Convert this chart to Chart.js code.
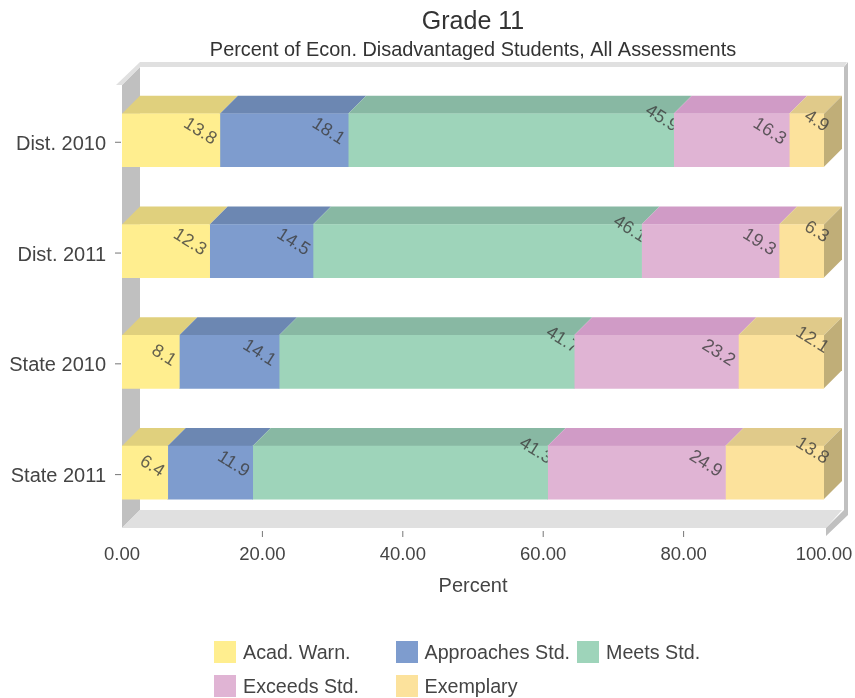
<!DOCTYPE html>
<html>
<head>
<meta charset="utf-8">
<title>Grade 11</title>
<script src="https://cdn.jsdelivr.net/npm/chart.js@4"></script>
<style>
    body { margin: 0; background: #fff; }
    #wrap { position: relative; width: 855px; height: 698px; filter: blur(0.5px); }
    #legend { position: absolute; left: 214px; top: 641px; display: grid; grid-template-columns: repeat(3, 181.5px); row-gap: 12px; }
    #legend div { display: flex; align-items: center; height: 22px; font: 19.7px "Liberation Sans", Arial, sans-serif; color: #444; white-space: nowrap; }
    #legend span { width: 22px; height: 22px; margin-right: 7px; flex: none; }
</style>
</head>
<body>
<div id="wrap">
    <canvas id="chart" width="855" height="698"></canvas>
    <div id="legend"></div>
</div>
<script>
const categories = ["Dist. 2010", "Dist. 2011", "State 2010", "State 2011"];
const seriesNames = ["Acad. Warn.", "Approaches Std.", "Meets Std.", "Exceeds Std.", "Exemplary"];

const acadWarn = [13.8, 12.3, 8.1, 6.4];
const approaches = [18.1, 14.5, 14.1, 11.9];
const meets = [45.9, 46.1, 41.7, 41.3];
const exceeds = [16.3, 19.3, 23.2, 24.9];
const exemplary = [4.9, 6.3, 12.1, 13.8];
const seriesValues = [acadWarn, approaches, meets, exceeds, exemplary];

const frontColors = ["#ffee8f", "#7e9cce", "#9ed4ba", "#e0b4d4", "#fce29c"];
const topColors = ["#e0d07d", "#6c87b2", "#88b8a3", "#d09bc6", "#e0ca8a"];
const sideColor = "#c0ae78";

const depth = 18;
const rim = 5;
const labelFont = '18px "Liberation Sans", Arial, sans-serif';
// label anchor per series: right end of the rotated text, from bar end / bar top
const labelAnchors = [[-5, 27], [-5, 27], [3, 14], [-5, 27], [3, 14]];

// the bars always fill the axis, the printed values do not quite add up to 100
const totals = categories.map((c, i) => seriesValues.reduce((sum, s) => sum + s[i], 0));

function poly(ctx, color, pts) {
    ctx.fillStyle = color;
    ctx.beginPath();
    pts.forEach((p, i) => i ? ctx.lineTo(p[0], p[1]) : ctx.moveTo(p[0], p[1]));
    ctx.closePath();
    ctx.fill();
}

// ===== 3D BOX + BAR FACES =====
const boxPlugin = {
    id: "box3d",
    beforeDatasetsDraw(chart) {
        const ctx = chart.ctx;
        const { left, right, top, bottom } = chart.chartArea;
        const backL = left + depth, backR = right + depth;
        const backT = top - depth, backB = bottom - depth;

        // walls and floor
        poly(ctx, "#c0c0c0", [[left, top], [backL, backT], [backL, backB], [left, bottom]]);
        poly(ctx, "#e0e0e0", [[left, bottom], [backL, backB], [backR, backB], [right + 2, bottom]]);
        poly(ctx, "#e0e0e0", [[backL, backT - rim], [backR + rim, backT - rim], [backR + 2, backT], [backL, backT]]);
        poly(ctx, "#e0e0e0", [[backL, backT - rim], [backL, backT], [left, top], [left - rim - 1, top]]);
        poly(ctx, "#c0c0c0", [[backR + 2, backT], [backR + rim + 1, backT - rim], [backR + rim + 1, backB + rim], [right + 2, bottom + 8], [right + 2, bottom], [backR + 2, backB]]);

        // top faces, and the side face of the last series
        seriesValues.forEach((s, d) => {
            chart.getDatasetMeta(d).data.forEach(bar => {
                const y0 = bar.y - bar.height / 2;
                const y1 = bar.y + bar.height / 2;
                poly(ctx, topColors[d], [[bar.base, y0], [bar.x, y0], [bar.x + depth, y0 - depth], [bar.base + depth, y0 - depth]]);
                if (d === seriesValues.length - 1) {
                    poly(ctx, sideColor, [[bar.x, y0], [bar.x + depth, y0 - depth], [bar.x + depth, y1 - depth], [bar.x, y1]]);
                }
            });
        });
    },
    afterDatasetsDraw(chart) {
        const ctx = chart.ctx;

        // value labels, cut off where the next segment starts
        seriesValues.forEach((s, d) => {
            chart.getDatasetMeta(d).data.forEach((bar, i) => {
                const y0 = bar.y - bar.height / 2;
                ctx.save();
                if (d < seriesValues.length - 1) {
                    ctx.beginPath();
                    ctx.rect(0, 0, bar.x, chart.height);
                    ctx.clip();
                }
                ctx.translate(bar.x + labelAnchors[d][0], y0 + labelAnchors[d][1]);
                ctx.rotate(Math.PI / 5.6);
                ctx.font = labelFont;
                ctx.fillStyle = "rgba(60,60,60,0.8)";
                ctx.textAlign = "right";
                ctx.textBaseline = "middle";
                ctx.fillText(s[i].toFixed(1), 0, 0);
                ctx.restore();
            });
        });

        // tick marks sit a little off the axes
        const xScale = chart.scales.x, yScale = chart.scales.y;
        ctx.fillStyle = "#777";
        xScale.ticks.forEach((t, i) => {
            if (i > 0 && i < xScale.ticks.length - 1) {
                ctx.fillRect(xScale.getPixelForTick(i) - 0.5, chart.chartArea.bottom + 3, 1, 6);
            }
        });
        yScale.ticks.forEach((t, i) => {
            ctx.fillRect(chart.chartArea.left - 7, yScale.getPixelForTick(i) + 1.5, 6, 1);
        });
    }
};

// ===== CHART =====
const font = '"Liberation Sans", Arial, sans-serif';

new Chart(document.getElementById("chart"), {
    type: "bar",
    data: {
        labels: categories,
        datasets: seriesValues.map((s, d) => ({
            label: seriesNames[d],
            data: s.map((v, i) => v / totals[i] * 100),
            backgroundColor: frontColors[d],
            borderWidth: 0
        }))
    },
    options: {
        indexAxis: "y",
        responsive: false,
        animation: false,
        barThickness: 53,
        layout: { padding: { left: 0, right: 31, top: 0, bottom: 98 } },
        scales: {
            x: {
                stacked: true,
                min: 0,
                max: 100,
                grid: { display: false },
                border: { display: false },
                ticks: {
                    stepSize: 20,
                    padding: 8,
                    maxRotation: 0,
                    color: "#444",
                    font: { family: font, size: 18.5 },
                    callback: v => Number(v).toFixed(2)
                },
                title: {
                    display: true,
                    text: "Percent",
                    color: "#444",
                    font: { family: font, size: 20 },
                    padding: { top: 0, bottom: 2 }
                },
                afterFit: scale => {
                    scale.height = 72;
                    scale.paddingLeft = 0;
                    scale.paddingRight = 0;
                }
            },
            y: {
                stacked: true,
                grid: { display: false },
                border: { display: false },
                ticks: {
                    padding: 8,
                    labelOffset: 4,
                    color: "#444",
                    font: { family: font, size: 20 }
                },
                afterFit: scale => { scale.width = 122; }
            }
        },
        plugins: {
            legend: { display: false },
            title: {
                display: true,
                text: "Grade 11",
                fullSize: false,
                color: "#333",
                font: { family: font, size: 25, weight: "normal" },
                padding: { top: 7, bottom: 2 }
            },
            subtitle: {
                display: true,
                text: "Percent of Econ. Disadvantaged Students, All Assessments",
                fullSize: false,
                color: "#333",
                font: { family: font, size: 19.9 },
                padding: { top: 0, bottom: 22 }
            }
        }
    },
    plugins: [boxPlugin]
});

// ===== LEGEND =====
let legendHTML = "";
seriesNames.forEach((name, d) => {
    legendHTML += `<div><span style="background:${frontColors[d]}"></span>${name}</div>`;
});
document.getElementById("legend").innerHTML = legendHTML;
</script>
</body>
</html>
